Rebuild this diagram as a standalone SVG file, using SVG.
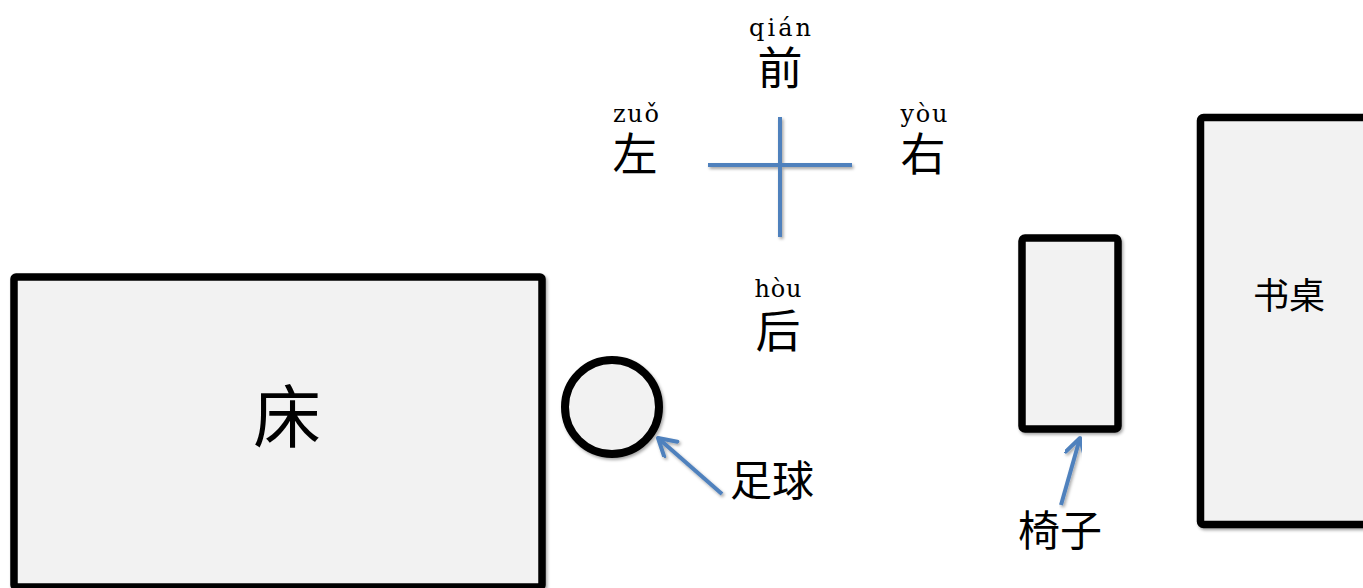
<svg xmlns="http://www.w3.org/2000/svg" width="1363" height="588" viewBox="0 0 1363 588">
<style>
.box{fill:#F2F2F2;stroke:#000;stroke-width:7.5;filter:url(#sh)}
.cn{font-family:"Noto Sans CJK SC","Noto Sans CJK TC",sans-serif;fill:#000;text-anchor:middle}
.py{font-family:"DejaVu Serif","Liberation Serif",serif;font-size:24px;fill:#000;text-anchor:middle}
.blue{stroke:#4F81BD;stroke-width:4;fill:none}
</style>
<defs>
<filter id="sh" x="-10%" y="-10%" width="120%" height="120%">
<feDropShadow dx="1.5" dy="2" stdDeviation="1.5" flood-color="#000" flood-opacity="0.35"/>
</filter>
<marker id="ah" markerUnits="userSpaceOnUse" markerWidth="24" markerHeight="24" refX="19" refY="11" orient="auto">
<path d="M2,1 L19,11 L2,21" fill="none" stroke="#4F81BD" stroke-width="4" stroke-linecap="round" stroke-linejoin="round"/>
</marker>
</defs>
<g id="bed">
<rect class="box" x="14" y="277" width="528" height="310" rx="2"/>
<text class="cn" x="287" y="442" font-size="68">床</text>
</g>
<g id="ball">
<circle class="box" cx="612" cy="407" r="47" style="stroke-width:8"/>
<text class="cn" x="772" y="496" font-size="42">足球</text>
</g>
<g id="chair">
<rect class="box" x="1022" y="238" width="96" height="191" rx="3"/>
<text class="cn" x="1060" y="546" font-size="42">椅子</text>
</g>
<g id="desk">
<rect class="box" x="1200.5" y="117.5" width="180" height="407" rx="3"/>
<text class="cn" x="1289" y="309" font-size="36">书桌</text>
</g>
<g id="compass">
<g filter="url(#sh)">
<line class="blue" x1="708" y1="165" x2="852" y2="165"/>
<line class="blue" x1="780" y1="117" x2="780" y2="237"/>
</g>
<text class="py" x="780" y="36" textLength="62" lengthAdjust="spacing">qián</text>
<text class="cn" x="780" y="85" font-size="45">前</text>
<text class="py" x="636" y="122" textLength="46" lengthAdjust="spacing">zuǒ</text>
<text class="cn" x="635" y="171" font-size="45">左</text>
<text class="py" x="924" y="122" textLength="47" lengthAdjust="spacing">yòu</text>
<text class="cn" x="923" y="171" font-size="45">右</text>
<text class="py" x="778" y="297" textLength="47" lengthAdjust="spacing">hòu</text>
<text class="cn" x="778" y="348" font-size="45">后</text>
</g>
<g id="connectors">
<line class="blue" x1="722" y1="494" x2="658" y2="438" marker-end="url(#ah)" filter="url(#sh)"/>
<line class="blue" x1="1061" y1="505" x2="1080" y2="438" marker-end="url(#ah)" filter="url(#sh)"/>
</g>
</svg>
